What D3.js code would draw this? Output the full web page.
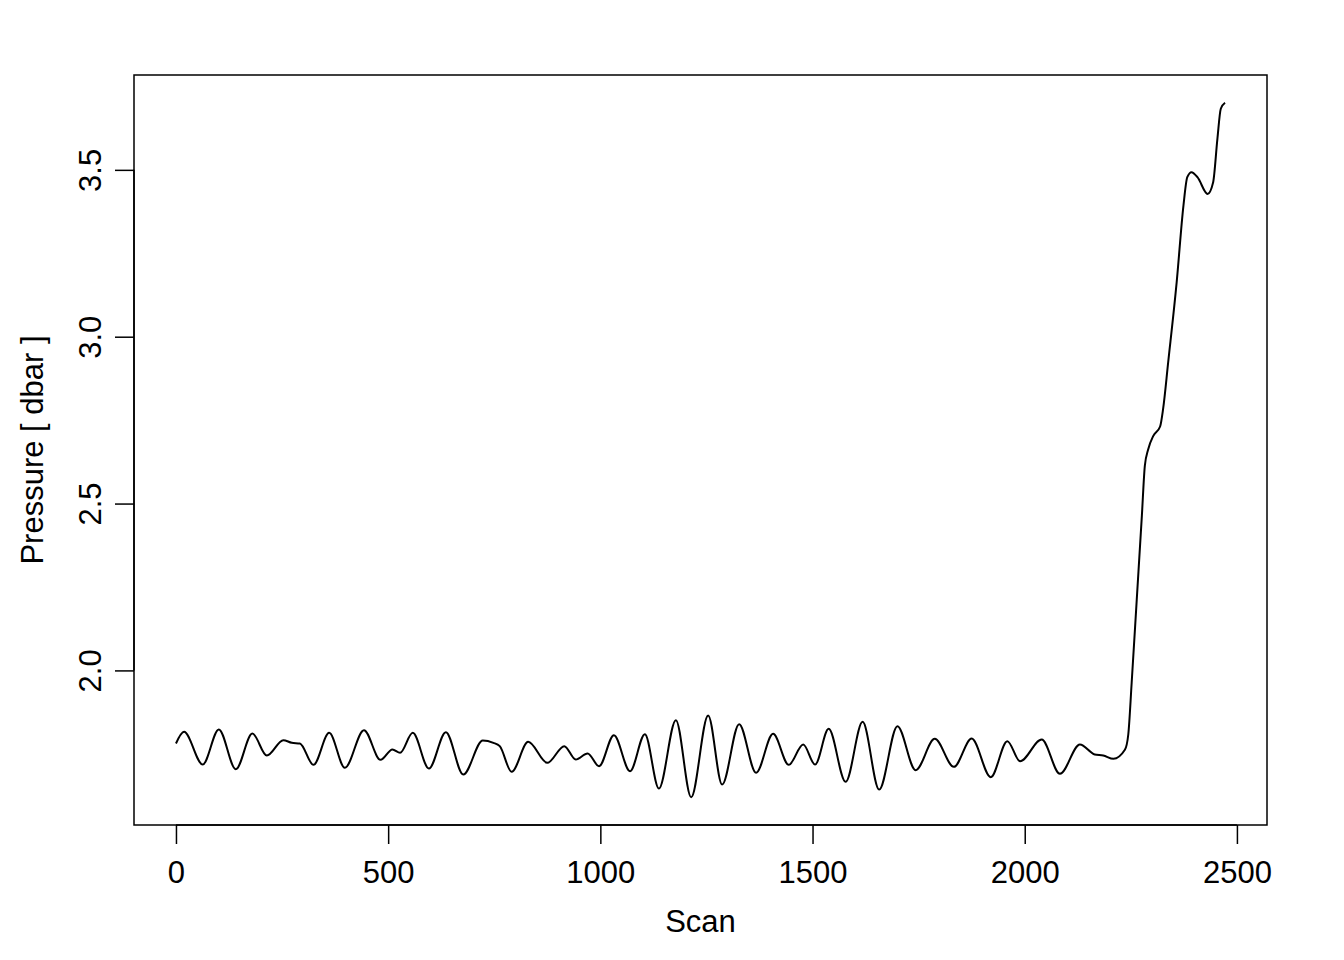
<!DOCTYPE html>
<html>
<head>
<meta charset="utf-8">
<script src="https://cdn.jsdelivr.net/npm/d3@7"></script>
<style>
  body { margin: 0; background: #fff; }
  text { font-family: "Liberation Sans", Arial, sans-serif; fill: #000; }
</style>
</head>
<body>
<svg id="chart" width="1344" height="960"></svg>
<script>
// scan number of each turning point of the trace
var scans = [0, 19, 63, 101, 141, 180, 214, 253, 273, 292, 324, 361, 398, 443, 482, 510, 528, 558,
  596, 636, 677, 723, 748, 763, 791, 830, 875, 915, 942, 970, 997, 1032, 1070, 1105, 1138,
  1178, 1214, 1254, 1287, 1327, 1367, 1407, 1444, 1478, 1506, 1538, 1578, 1618, 1657, 1700,
  1743, 1788, 1833, 1875, 1920, 1959, 1989, 2040, 2083, 2130, 2165, 2185, 2209, 2236, 2244,
  2252, 2264, 2276, 2283, 2291, 2303, 2319, 2326, 2338, 2358, 2374, 2383, 2393, 2407, 2431,
  2444, 2454, 2462, 2472]

// pressure at those scans, dbar
var pressures = [1.781, 1.816, 1.718, 1.823, 1.704, 1.811, 1.745, 1.791, 1.783, 1.781, 1.717, 1.813,
  1.708, 1.821, 1.732, 1.763, 1.753, 1.813, 1.706, 1.815, 1.688, 1.790, 1.783, 1.773, 1.696,
  1.786, 1.723, 1.773, 1.733, 1.751, 1.713, 1.806, 1.698, 1.809, 1.646, 1.851, 1.620, 1.865,
  1.658, 1.839, 1.693, 1.810, 1.717, 1.778, 1.718, 1.825, 1.666, 1.846, 1.643, 1.833, 1.701,
  1.795, 1.711, 1.796, 1.680, 1.788, 1.728, 1.793, 1.690, 1.778, 1.748, 1.745, 1.735, 1.762,
  1.808, 1.963, 2.213, 2.463, 2.613, 2.663, 2.703, 2.731, 2.783, 2.923, 3.163, 3.393, 3.478,
  3.493, 3.478, 3.428, 3.463, 3.593, 3.683, 3.701]

var xTicks = [0, 500, 1000, 1500, 2000, 2500]
var yTicks = [2.0, 2.5, 3.0, 3.5]

var data = scans.map(function(s, i){ return {scan: s, p: pressures[i]} })

var svg = d3.select("#chart")
var box = {left: 134, right: 1267, top: 75, bottom: 825}
var fontSize = 31

// R style 4% padding around the data range
function padded(ext) {
  var d = (ext[1] - ext[0]) * 0.04
  return [ext[0] - d, ext[1] + d]
}

var x = d3.scaleLinear()
  .domain(padded(d3.extent(scans)))
  .range([box.left, box.right])

var y = d3.scaleLinear()
  .domain(padded(d3.extent(pressures)))
  .range([box.bottom, box.top])

// the trace
var line = d3.line()
  .x(function(d){ return x(d.scan) })
  .y(function(d){ return y(d.p) })
  .curve(d3.curveMonotoneX)

svg.append("path")
  .datum(data)
  .attr("d", line)
  .attr("fill", "none")
  .attr("stroke", "#000")
  .attr("stroke-width", 2)

// frame
svg.append("rect")
  .attr("x", box.left)
  .attr("y", box.top)
  .attr("width", box.right - box.left)
  .attr("height", box.bottom - box.top)
  .attr("fill", "none")
  .attr("stroke", "#000")
  .attr("stroke-width", 1.5)

// x axis
var xAxis = svg.append("g")
  .attr("transform", "translate(0," + box.bottom + ")")
  .call(d3.axisBottom(x).tickValues(xTicks).tickSize(19).tickPadding(17).tickFormat(d3.format("d")))
xAxis.select(".domain")
  .attr("d", "M" + x(xTicks[0]) + ",0H" + x(xTicks[xTicks.length - 1]))
  .attr("stroke-width", 1.5)
xAxis.selectAll("line").attr("stroke-width", 1.5)
xAxis.selectAll("text")
  .style("font-size", fontSize + "px")
  .style("font-family", "Liberation Sans, Arial, sans-serif")

// y axis with vertical labels
var yAxis = svg.append("g")
  .attr("transform", "translate(" + box.left + ",0)")
  .call(d3.axisLeft(y).tickValues(yTicks).tickSize(19).tickFormat(d3.format(".1f")))
yAxis.select(".domain")
  .attr("d", "M0," + y(yTicks[0]) + "V" + y(yTicks[yTicks.length - 1]))
  .attr("stroke-width", 1.5)
yAxis.selectAll("line").attr("stroke-width", 1.5)
yAxis.selectAll("text")
  .attr("x", null)
  .attr("dy", null)
  .attr("text-anchor", "middle")
  .attr("transform", "translate(-33,0) rotate(-90)")
  .style("font-size", fontSize + "px")
  .style("font-family", "Liberation Sans, Arial, sans-serif")

// axis titles
svg.append("text")
  .attr("x", (box.left + box.right) / 2)
  .attr("y", 932)
  .attr("text-anchor", "middle")
  .style("font-size", fontSize + "px")
  .text("Scan")

svg.append("text")
  .attr("transform", "translate(43," + (box.top + box.bottom) / 2 + ") rotate(-90)")
  .attr("text-anchor", "middle")
  .style("font-size", fontSize + "px")
  .text("Pressure [ dbar ]")
</script>
</body>
</html>
